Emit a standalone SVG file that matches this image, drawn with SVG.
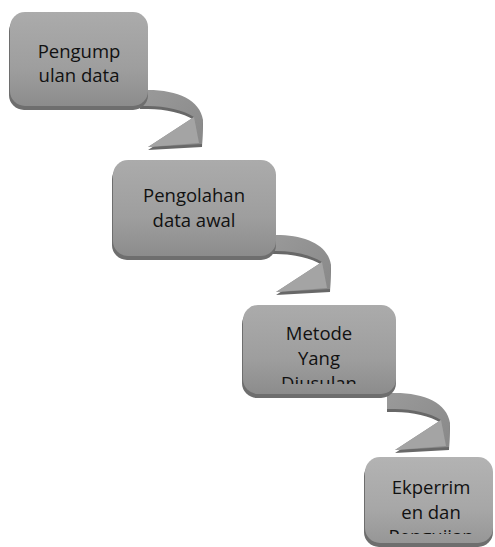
<svg xmlns="http://www.w3.org/2000/svg" width="495" height="547" viewBox="0 0 495 547">
  <style>
    .shadow { fill: #6e6e6e; }
    .face { fill: url(#boxGrad); }
    .face4 { fill: url(#boxGrad4); }
    .lbl { font-family: "Open Sans", "Noto Sans", sans-serif; font-size: 18.5px; fill: #111; text-anchor: middle; }
    .arr-dark { fill: #686868; }
    .arr-face { fill: url(#arrGrad); }
    .arr-head { fill: #a4a4a4; }
  </style>
  <defs>
    <linearGradient id="boxGrad" x1="0" y1="0" x2="0" y2="1">
      <stop offset="0" stop-color="#ababab"/>
      <stop offset="0.6" stop-color="#9e9e9e"/>
      <stop offset="1" stop-color="#8c8c8c"/>
    </linearGradient>
    <linearGradient id="boxGrad4" x1="0" y1="0" x2="0" y2="1">
      <stop offset="0" stop-color="#b3b3b3"/>
      <stop offset="0.6" stop-color="#a7a7a7"/>
      <stop offset="1" stop-color="#969696"/>
    </linearGradient>
    <linearGradient id="arrGrad" x1="0" y1="0" x2="1" y2="1">
      <stop offset="0" stop-color="#9a9a9a"/>
      <stop offset="1" stop-color="#888888"/>
    </linearGradient>
    <path id="arrow" d="M -8,0 L 0,0 C 30,0 52,10 55,30 L 54,54 L 0,57 L 46,27 C 35,20 18,16 0,16 L -8,16 Z"/>
    <clipPath id="clip3"><rect x="243" y="305" width="153" height="79"/></clipPath>
    <clipPath id="clip4"><rect x="365" y="457" width="128" height="77"/></clipPath>
  </defs>

  <g id="connectors">
    <g transform="translate(148,90)">
      <use href="#arrow" class="arr-dark" transform="translate(0,3)"/>
      <use href="#arrow" class="arr-face"/>
      <path class="arr-head" d="M 0,57 L 46,27 L 51,53 Z"/>
    </g>
    <g transform="translate(276,235)">
      <use href="#arrow" class="arr-dark" transform="translate(0,3)"/>
      <use href="#arrow" class="arr-face"/>
      <path class="arr-head" d="M 0,57 L 46,27 L 51,53 Z"/>
    </g>
    <g transform="translate(395,393)">
      <use href="#arrow" class="arr-dark" transform="translate(0,3)"/>
      <use href="#arrow" class="arr-face"/>
      <path class="arr-head" d="M 0,57 L 46,27 L 51,53 Z"/>
    </g>
  </g>

  <g id="node1">
    <rect class="shadow" x="9" y="16" width="139" height="94" rx="15"/>
    <rect class="face" x="10" y="12" width="138" height="94" rx="15"/>
    <text class="lbl" x="79" y="58">Pengump</text>
    <text class="lbl" x="79" y="82">ulan data</text>
  </g>

  <g id="node2">
    <rect class="shadow" x="112" y="164" width="164" height="96" rx="15"/>
    <rect class="face" x="113" y="160" width="163" height="96" rx="15"/>
    <text class="lbl" x="194" y="202">Pengolahan</text>
    <text class="lbl" x="194" y="227">data awal</text>
  </g>

  <g id="node3">
    <rect class="shadow" x="242" y="309" width="154" height="89" rx="15"/>
    <rect class="face" x="243" y="305" width="153" height="89" rx="15"/>
    <g clip-path="url(#clip3)">
      <text class="lbl" x="319" y="340">Metode</text>
      <text class="lbl" x="319" y="365">Yang</text>
      <text class="lbl" x="319" y="390">Diusulan</text>
    </g>
  </g>

  <g id="node4">
    <rect class="shadow" x="364" y="461" width="129" height="86" rx="15"/>
    <rect class="face4" x="365" y="457" width="128" height="86" rx="15"/>
    <g clip-path="url(#clip4)">
      <text class="lbl" x="431" y="494">Ekperrim</text>
      <text class="lbl" x="431" y="519">en dan</text>
      <text class="lbl" x="431" y="543">Pengujian</text>
    </g>
  </g>
</svg>
